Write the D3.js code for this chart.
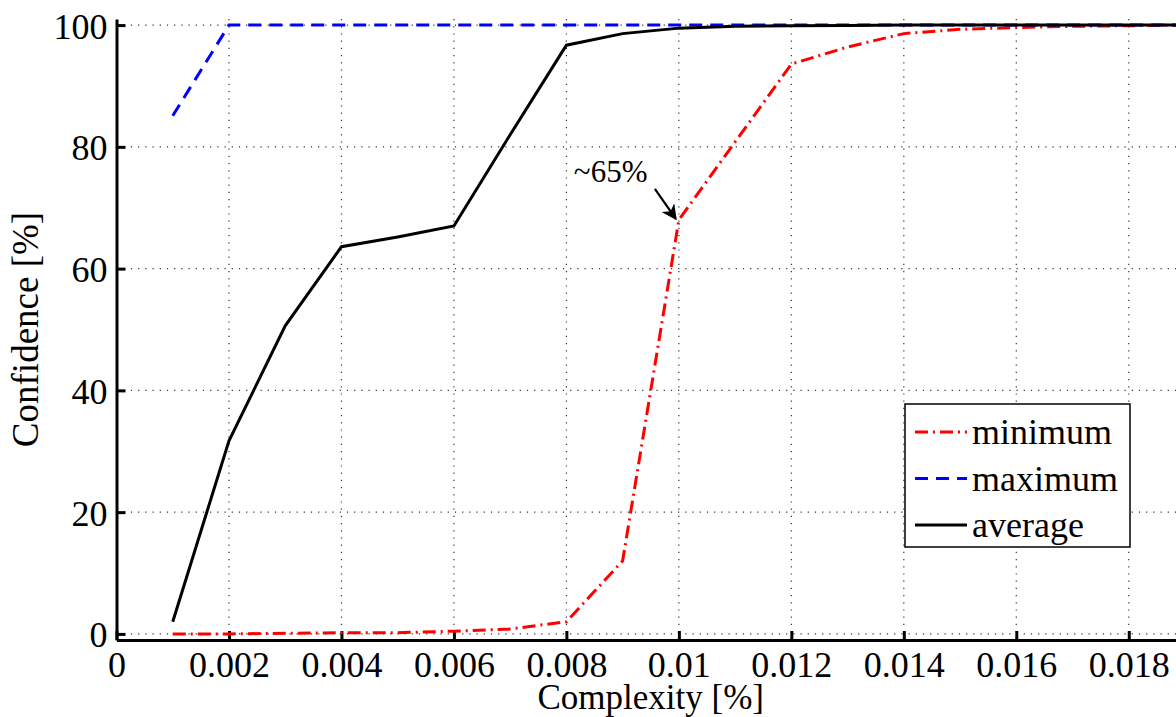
<!DOCTYPE html>
<html>
<head>
<meta charset="utf-8">
<script src="https://cdn.jsdelivr.net/npm/d3@7"></script>
<style>
    body { margin: 0; background: #fff; }
    svg { display: block; }
    text { font-family: 'Liberation Serif', 'Times New Roman', serif; fill: #000; }
</style>
</head>
<body>
<script>
// ===================== DATA =====================
const complexity = [0.001, 0.002, 0.003, 0.004, 0.005, 0.006, 0.007, 0.008, 0.009, 0.010,
    0.011, 0.012, 0.013, 0.014, 0.015, 0.016, 0.017, 0.018, 0.019]
const minimum = [0, 0, 0.1, 0.2, 0.2, 0.45, 0.8, 2, 12, 68,
    80.8, 93.6, 96.4, 98.6, 99.3, 99.6, 99.8, 99.9, 100]
const maximum = [85.1, 100, 100, 100, 100, 100, 100, 100, 100, 100,
    100, 100, 100, 100, 100, 100, 100, 100, 100]
const average = [2, 31.7, 50.6, 63.6, 65.2, 67, 82, 96.7, 98.6, 99.5,
    99.8, 99.9, 99.95, 100, 100, 100, 100, 100, 100]

const xTicks = [0, 0.002, 0.004, 0.006, 0.008, 0.01, 0.012, 0.014, 0.016, 0.018]
const xTickLabels = ['0', '0.002', '0.004', '0.006', '0.008', '0.01', '0.012', '0.014', '0.016', '0.018']
const yTicks = [0, 20, 40, 60, 80, 100]
const yTickLabels = ['0', '20', '40', '60', '80', '100']

const seriesNames = ['minimum', 'maximum', 'average']
const annotation = { x: 0.01, y: 68, text: '~65%' }

// ===================== LAYOUT =====================
const W = 1176, H = 717
const plot = { left: 116.5, right: 1185, top: 19, bottom: 640 }

const svg = d3.select('body').append('svg')
    .attr('width', W)
    .attr('height', H)

const x = d3.scaleLinear().domain([0, 0.019]).range([plot.left, plot.right])
const y = d3.scaleLinear().domain([-1, 101]).range([plot.bottom, plot.top])

// grid
const grid = svg.append('g').attr('class', 'grid')
grid.selectAll('.vgrid')
    .data(xTicks.filter(d => d > 0))
    .enter().append('line')
    .attr('x1', d => x(d)).attr('x2', d => x(d))
    .attr('y1', plot.top).attr('y2', plot.bottom)
grid.selectAll('.hgrid')
    .data(yTicks)
    .enter().append('line')
    .attr('x1', plot.left).attr('x2', plot.right)
    .attr('y1', d => y(d)).attr('y2', d => y(d))
grid.selectAll('line')
    .attr('stroke', '#333')
    .attr('stroke-width', 1.2)
    .attr('stroke-dasharray', '1.2,6')

// axes
const xAxis = svg.append('g')
    .attr('transform', 'translate(0,' + plot.bottom + ')')
    .call(d3.axisBottom(x).tickValues(xTicks)
        .tickFormat((d, i) => xTickLabels[i])
        .tickSizeInner(-9).tickSizeOuter(0).tickPadding(11))
const yAxis = svg.append('g')
    .attr('transform', 'translate(' + plot.left + ',0)')
    .call(d3.axisLeft(y).tickValues(yTicks)
        .tickFormat((d, i) => yTickLabels[i])
        .tickSizeInner(-9).tickSizeOuter(0).tickPadding(9))

svg.selectAll('.domain').attr('stroke', '#000').attr('stroke-width', 3)
svg.selectAll('.tick line').attr('stroke', '#000').attr('stroke-width', 3)
svg.selectAll('.tick text')
    .style('font-family', "'Liberation Serif', serif")
    .style('font-size', '36px')
    .attr('fill', '#000')
yAxis.selectAll('.tick text').attr('dy', '0.36em')

// axis titles
svg.append('text')
    .attr('x', (plot.left + plot.right) / 2)
    .attr('y', 709)
    .attr('text-anchor', 'middle')
    .style('font-size', '35px')
    .text('Complexity [%]')
svg.append('text')
    .attr('transform', 'translate(38,' + ((plot.top + plot.bottom) / 2) + ') rotate(-90)')
    .attr('text-anchor', 'middle')
    .style('font-size', '37px')
    .text('Confidence [%]')

// lines
const styles = {
    minimum: { color: '#ff0000', dash: '13,5,2,5' },
    maximum: { color: '#0000ff', dash: '13,8' },
    average: { color: '#000000', dash: null }
}
const values = { minimum: minimum, maximum: maximum, average: average }

const line = d3.line()
    .x((d, i) => x(complexity[i]))
    .y(d => y(d))

seriesNames.forEach((name) => {
    svg.append('path')
        .datum(values[name])
        .attr('fill', 'none')
        .attr('stroke', styles[name].color)
        .attr('stroke-width', 3)
        .attr('stroke-dasharray', styles[name].dash)
        .attr('d', line)
})

// annotation
svg.append('defs').append('marker')
    .attr('id', 'arrow')
    .attr('viewBox', '0 0 10 10')
    .attr('refX', 9).attr('refY', 5)
    .attr('markerWidth', 7).attr('markerHeight', 7)
    .attr('markerUnits', 'strokeWidth')
    .attr('orient', 'auto')
    .append('path')
    .attr('d', 'M0,0 L10,5 L0,10 L3,5 Z')
    .attr('fill', '#000')

const ax = x(annotation.x), ay = y(annotation.y)
svg.append('line')
    .attr('x1', ax - 24).attr('y1', ay - 31)
    .attr('x2', ax - 3).attr('y2', ay - 1)
    .attr('stroke', '#000')
    .attr('stroke-width', 2.2)
    .attr('marker-end', 'url(#arrow)')
svg.append('text')
    .attr('x', ax - 105)
    .attr('y', ay - 38)
    .style('font-size', '31px')
    .text(annotation.text)

// legend
const legend = svg.append('g')
    .attr('transform', 'translate(905,404)')
legend.append('rect')
    .attr('width', 225).attr('height', 143)
    .attr('fill', '#fff')
    .attr('stroke', '#000')
    .attr('stroke-width', 1.5)

const rows = legend.selectAll('.row')
    .data(seriesNames)
    .enter().append('g')
    .attr('transform', (d, i) => 'translate(0,' + (28 + i * 46.5) + ')')
rows.append('line')
    .attr('x1', 10).attr('x2', 62)
    .attr('y1', 0).attr('y2', 0)
    .attr('stroke', d => styles[d].color)
    .attr('stroke-width', 3)
    .attr('stroke-dasharray', d => styles[d].dash)
rows.append('text')
    .attr('x', 67)
    .attr('y', 12)
    .style('font-size', '36px')
    .text(d => d)
</script>
</body>
</html>
